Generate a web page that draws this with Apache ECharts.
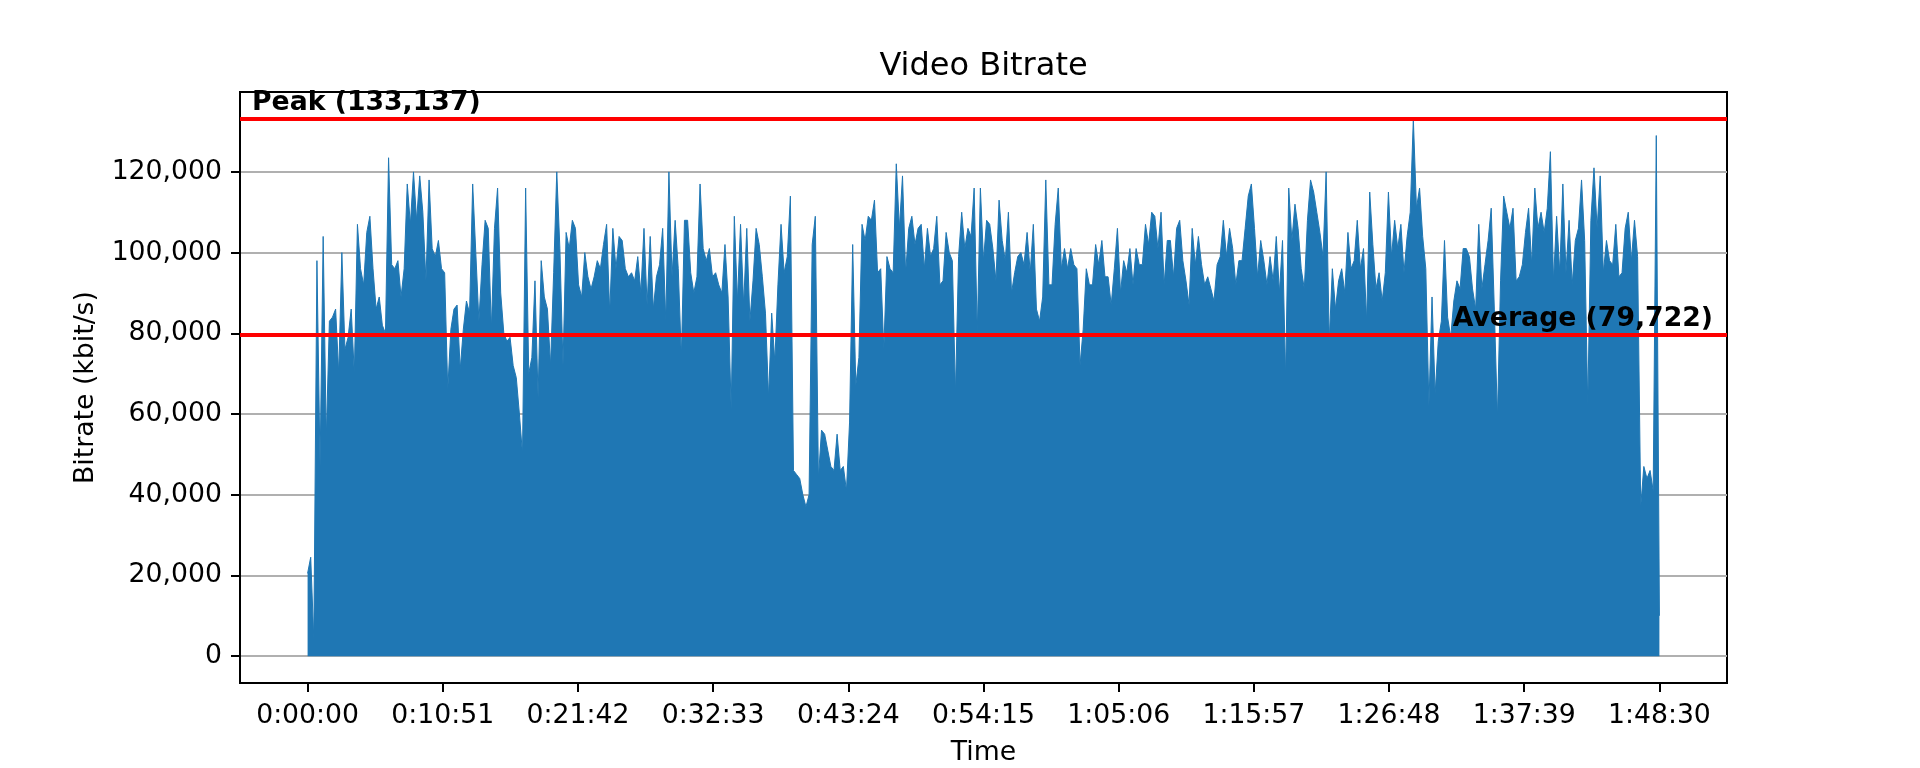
<!DOCTYPE html>
<html>
<head>
<meta charset="utf-8">
<title>Video Bitrate</title>
<script src="https://cdn.jsdelivr.net/npm/echarts@6.0.0/dist/echarts.min.js"></script>
<style>
    html, body { margin: 0; padding: 0; background: #fff; }
    #chart { width: 1920px; height: 768px; }
</style>
</head>
<body>
<div id="chart"></div>
<script type="text/javascript">

    // one sample every 15 seconds (kbit/s)
    var STEP = 15;
    var bitrate = [
        20500, 24500, 4000, 98000, 47000, 104000, 54000, 83000, 84000, 86000,
        70000, 100000, 76000, 79000, 86000, 70000, 107000, 96000, 92000, 105000,
        109000, 96000, 86000, 89000, 82000, 80000, 123500, 97000, 96000, 98000,
        89000, 96000, 117000, 107000, 120000, 108000, 119000, 110000, 93000, 118000,
        101000, 99000, 103000, 96000, 95000, 66000, 81000, 86000, 87000, 71000,
        81000, 88000, 85000, 117000, 100000, 83000, 97000, 108000, 106000, 81000,
        106000, 116000, 90000, 80000, 78000, 79000, 72000, 69000, 60000, 50000,
        116000, 70000, 74000, 93000, 64000, 98000, 89000, 86000, 72000, 95000,
        120000, 101000, 72000, 105000, 101000, 108000, 106000, 92000, 89000, 100000,
        94000, 91000, 94000, 98000, 96000, 102000, 107000, 85000, 106000, 96000,
        104000, 103000, 96000, 94000, 95000, 93000, 99000, 90000, 106000, 87000,
        104000, 86000, 94000, 97000, 106000, 83000, 120000, 94000, 108000, 96000,
        74000, 108000, 108000, 95000, 90000, 94000, 117000, 101000, 98000, 101000,
        94000, 95000, 92000, 90000, 102000, 89000, 61000, 109000, 88000, 107000,
        87000, 106000, 83000, 93000, 106000, 102000, 94000, 85000, 64000, 85000,
        73000, 92000, 107000, 95000, 99000, 114000, 46000, 45000, 44000, 40000,
        37000, 40000, 102000, 109000, 44000, 56000, 55000, 51000, 47000, 46000,
        55000, 46000, 47000, 41000, 58000, 102000, 67000, 74000, 107000, 103000,
        109000, 108000, 113000, 95000, 96000, 76000, 99000, 96000, 95000, 122000,
        106000, 119000, 95000, 106000, 109000, 102000, 106000, 107000, 96000, 106000,
        99000, 101000, 109000, 92000, 93000, 105000, 100000, 98000, 65000, 99000,
        110000, 101000, 106000, 104000, 116000, 80000, 116000, 98000, 108000, 107000,
        101000, 93000, 113000, 103000, 98000, 110000, 90000, 95000, 99000, 100000,
        97000, 105000, 95000, 107000, 86000, 83000, 89000, 118000, 92000, 92000,
        107000, 116000, 96000, 101000, 96000, 101000, 97000, 96000, 72000, 81000,
        96000, 92000, 92000, 102000, 97000, 103000, 94000, 94000, 87000, 96000,
        106000, 90000, 98000, 95000, 101000, 92000, 101000, 97000, 97000, 107000,
        102000, 110000, 109000, 101000, 110000, 92000, 103000, 103000, 94000, 106000,
        108000, 98000, 93000, 87000, 106000, 97000, 104000, 97000, 92000, 94000,
        91000, 88000, 97000, 99000, 108000, 99000, 106000, 101000, 92000, 98000,
        98000, 106000, 114000, 117000, 106000, 94000, 103000, 98000, 92000, 99000,
        93000, 104000, 90000, 103000, 69000, 116000, 103000, 112000, 106000, 96000,
        91000, 108000, 118000, 115000, 110000, 105000, 99000, 120000, 78000, 96000,
        86000, 93000, 96000, 90000, 105000, 96000, 98000, 108000, 96000, 101000,
        83000, 115000, 102000, 91000, 95000, 88000, 95000, 115000, 99000, 108000,
        101000, 107000, 95000, 104000, 110000, 133137, 111000, 116000, 104000, 96000,
        62000, 89000, 65000, 78000, 83000, 103000, 84000, 79000, 88000, 93000,
        91000, 101000, 101000, 99000, 91000, 86000, 107000, 91000, 97000, 103000,
        111000, 86000, 59000, 93000, 114000, 110000, 106000, 111000, 93000, 94000,
        97000, 105000, 111000, 97000, 116000, 106000, 110000, 105000, 111000, 125000,
        93000, 109000, 95000, 117000, 95000, 108000, 92000, 103000, 106000, 118000,
        103000, 62000, 108000, 121000, 106000, 119000, 95000, 103000, 98000, 97000,
        107000, 94000, 95000, 106000, 110000, 98000, 108000, 99000, 37000, 47000,
        44000, 46000, 41000, 129000, 10000
    ];

    var peakRate = 133137;
    var averageRate = 79722;

    // tick positions in seconds and kbit/s
    var timeTicks = [0, 651, 1302, 1953, 2604, 3255, 3906, 4557, 5208, 5859, 6510];
    var rateTicks = [0, 20000, 40000, 60000, 80000, 100000, 120000];

    var FONT = 'DejaVu Sans';
    var FS = 26.7;

    function pad2(n) {
        return (n < 10 ? '0' : '') + n;
    }

    function fmtTime(s) {
        s = Math.round(s);
        var h = Math.floor(s / 3600);
        var m = Math.floor((s % 3600) / 60);
        return h + ':' + pad2(m) + ':' + pad2(s % 60);
    }

    function fmtNum(v) {
        return Math.round(v).toLocaleString('en-US');
    }

    var points = [];
    for (var i = 0; i < bitrate.length; i++) {
        points.push([i * STEP, bitrate[i]]);
    }

    // matplotlib style 5% padding round the data
    var tMax = timeTicks[timeTicks.length - 1];
    var xPad = tMax * 0.05;
    var yPad = peakRate * 0.05;

    var chart = echarts.init(document.getElementById('chart'));
    chart.setOption({
        animation: false,
        backgroundColor: '#ffffff',
        textStyle: { fontFamily: FONT },
        graphic: [{
            type: 'text',
            x: 983.5,
            y: 67,
            style: {
                text: 'Video Bitrate',
                font: '32px "DejaVu Sans"',
                fill: '#000',
                textAlign: 'center',
                textVerticalAlign: 'middle'
            }
        }],
        grid: {
            left: 240,
            right: 193,
            top: 92,
            bottom: 85,
            outerBoundsMode: 'none',
            containLabel: false,
            show: true,
            borderColor: '#000',
            borderWidth: 2,
            backgroundColor: 'transparent'
        },
        xAxis: {
            type: 'value',
            min: -xPad,
            max: tMax + xPad,
            name: 'Time',
            nameLocation: 'middle',
            nameGap: 57,
            nameTextStyle: { fontSize: FS, color: '#000', fontFamily: FONT },
            axisLine: { show: true, onZero: false, lineStyle: { color: '#000', width: 2 } },
            axisTick: {
                show: true,
                length: 9,
                customValues: timeTicks,
                lineStyle: { color: '#000', width: 2 }
            },
            axisLabel: {
                customValues: timeTicks,
                margin: 20,
                fontSize: FS,
                color: '#000',
                fontFamily: FONT,
                formatter: fmtTime
            },
            splitLine: { show: false }
        },
        yAxis: {
            type: 'value',
            min: -yPad,
            max: peakRate + yPad,
            name: 'Bitrate (kbit/s)',
            nameLocation: 'middle',
            nameGap: 140,
            nameTextStyle: { fontSize: FS, color: '#000', fontFamily: FONT },
            axisLine: { show: true, onZero: false, lineStyle: { color: '#000', width: 2 } },
            axisTick: {
                show: true,
                length: 9,
                customValues: rateTicks,
                lineStyle: { color: '#000', width: 2 }
            },
            axisLabel: {
                customValues: rateTicks,
                margin: 18,
                fontSize: FS,
                color: '#000',
                fontFamily: FONT,
                formatter: fmtNum
            },
            splitLine: { show: true, lineStyle: { color: '#b0b0b0', width: 1.8 } }
        },
        series: [{
            name: 'Bitrate',
            type: 'line',
            data: points,
            symbol: 'none',
            showSymbol: false,
            sampling: null,
            lineStyle: { color: '#1f77b4', width: 1 },
            itemStyle: { color: '#1f77b4' },
            areaStyle: { color: '#1f77b4', opacity: 1 },
            markLine: {
                silent: true,
                symbol: 'none',
                animation: false,
                lineStyle: { color: '#ff0000', width: 4, type: 'solid' },
                data: [
                    {
                        yAxis: peakRate,
                        label: {
                            show: true,
                            position: 'insideStartTop',
                            distance: [12, 2],
                            formatter: 'Peak (' + fmtNum(peakRate) + ')',
                            fontSize: FS,
                            fontWeight: 'bold',
                            color: '#000',
                            fontFamily: FONT
                        }
                    },
                    {
                        yAxis: averageRate,
                        label: {
                            show: true,
                            position: 'insideEndTop',
                            distance: [14, 2],
                            formatter: 'Average (' + fmtNum(averageRate) + ')',
                            fontSize: FS,
                            fontWeight: 'bold',
                            color: '#000',
                            fontFamily: FONT
                        }
                    }
                ]
            }
        }]
    });
</script>
</body>
</html>
